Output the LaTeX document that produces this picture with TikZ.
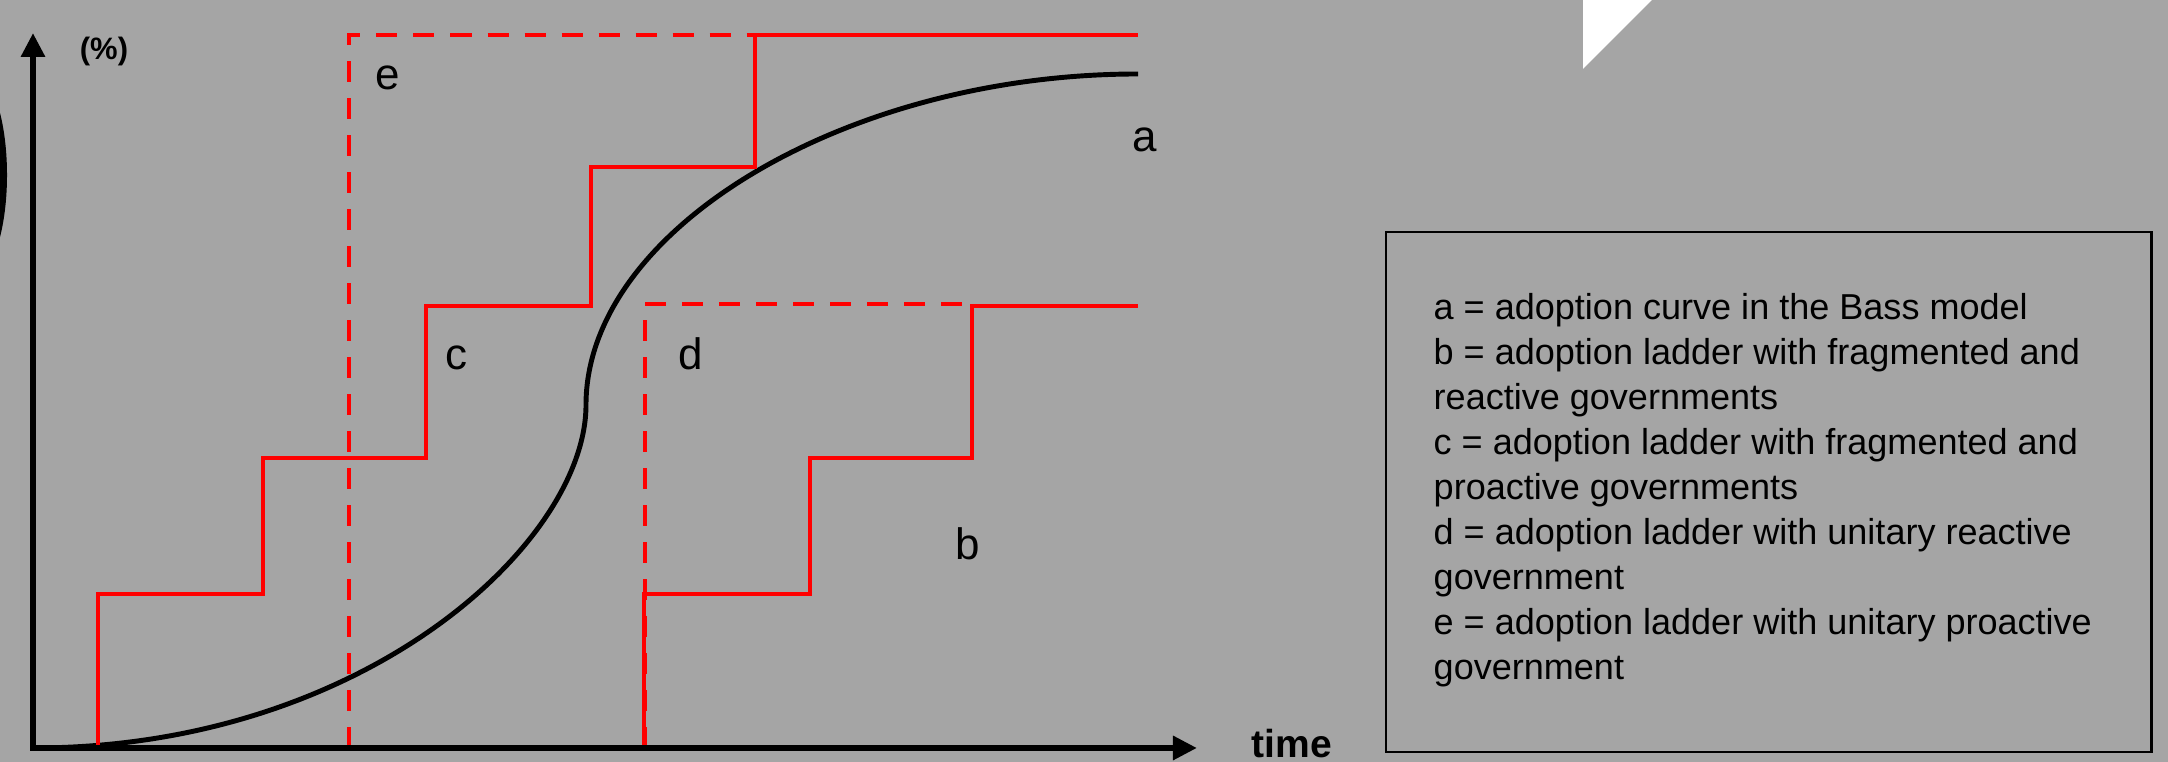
\documentclass[tikz,border=0pt]{standalone}
\usepackage{fontspec}
\setmainfont{Liberation Sans}
\usetikzlibrary{arrows.meta}

\definecolor{slidegray}{RGB}{165,165,165}

\begin{document}
\begin{tikzpicture}[x=0.01cm, y=-0.01cm,
    axisline/.style={line width=1.7pt,
      {Triangle[length=0.24cm,width=0.23cm]}-{Triangle[length=0.24cm,width=0.23cm]}},
    ladder/.style={red, line width=1.3pt},
    ladderdash/.style={ladder, dash pattern=on 0.21cm off 0.16cm},
    bass/.style={line width=1.4pt},
    curvelabel/.style={font=\fontsize{12.5}{15}\selectfont, inner sep=0pt, anchor=base},
    axislabel/.style={font=\bfseries\fontsize{8.8}{10}\selectfont, inner sep=0pt, anchor=base},
    keybox/.style={draw, line width=0.6pt, inner sep=0pt, anchor=north west,
      minimum width=7.65cm, minimum height=5.2cm},
    keytext/.style={font=\fontsize{10.25}{12.8}\selectfont, inner sep=0pt, anchor=base west}]
  \fill[slidegray] (0,0) rectangle (2168,762);
  \useasboundingbox (0,0) rectangle (2168,762);
  \fill (-30,175) ellipse [x radius=0.37cm, y radius=1.06cm];
  \fill[white] (1583,0) -- (1652,0) -- (1583,69) -- cycle;

  \coordinate (O) at (33,748);
  \coordinate (ytop) at (33,33);
  \coordinate (xend) at (1197,748);

  % Bass curve
  \draw[bass] (O) .. controls (365,748) and (586,542) .. (586,405)
    .. controls (586,230) and (845,74) .. (1138,74);

  % ladders
  \draw[ladderdash] (349,748) -- (349,35) -- (755,35);
  \draw[ladderdash] (645,748) -- (645,304) -- (971,304);
  \draw[ladder] (98,748) -- (98,594) -- (263,594) -- (263,458) -- (426,458)
    -- (426,306) -- (591,306) -- (591,167) -- (755,167) -- (755,35) -- (1138,35);
  \draw[ladder] (644,748) -- (644,594) -- (810,594) -- (810,458) -- (972,458)
    -- (972,306) -- (1138,306);

  \draw[axisline] (ytop) |- (xend);
  \node[axislabel] (pct) at (104,60) {(\%)};
  \node[axislabel, font=\bfseries\fontsize{11.1}{13}\selectfont] (time) at (1292,758) {time};

  \node[curvelabel] (a) at (1145,152) {a};
  \node[curvelabel] (b) at (968,560) {b};
  \node[curvelabel] (c) at (456,370) {c};
  \node[curvelabel] (d) at (691,370) {d};
  \node[curvelabel] (e) at (388,90) {e};

  \node[keybox] (legend) at (1385,231) {};
  \foreach \txt [count=\i] in {a = adoption curve in the Bass model,
      b = adoption ladder with fragmented and, reactive governments,
      c = adoption ladder with fragmented and, proactive governments,
      d = adoption ladder with unitary reactive, government,
      e = adoption ladder with unitary proactive, government}
    \node[keytext] (key\i) at (1433,{320+45*(\i-1)}) {\txt};
\end{tikzpicture}
\end{document}
